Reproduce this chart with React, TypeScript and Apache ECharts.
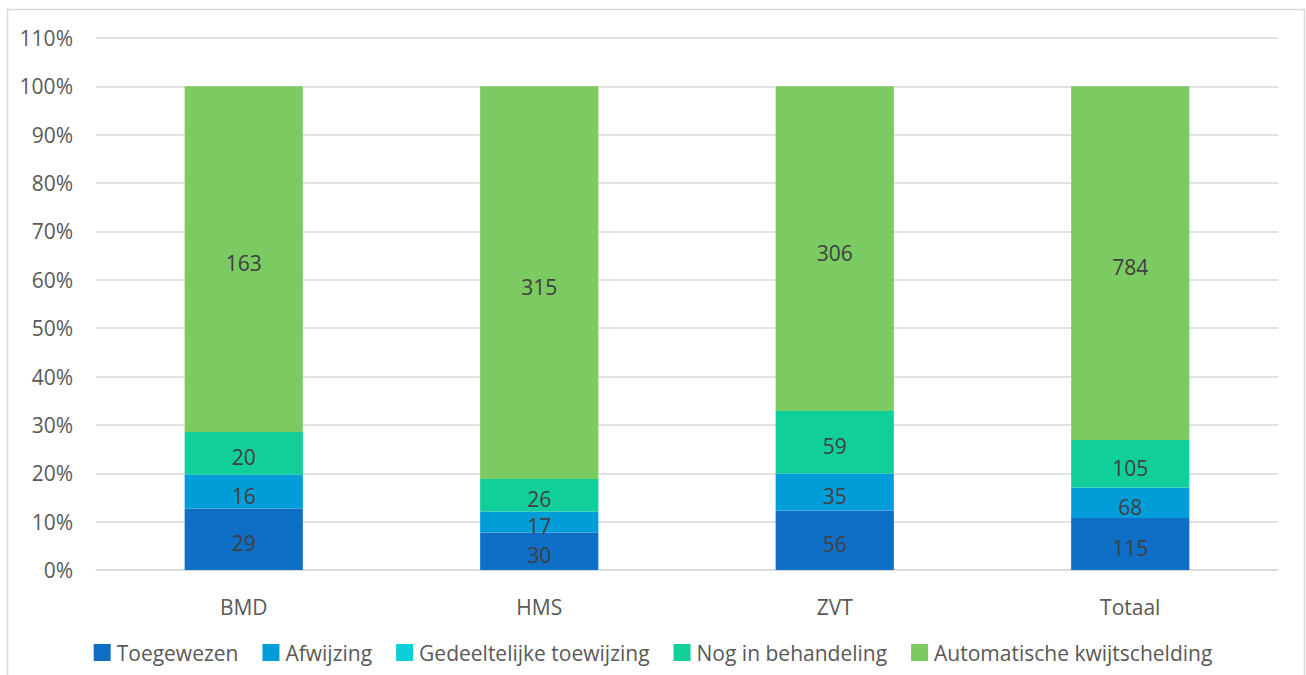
import React, { useEffect, useRef } from "react";
import * as echarts from "echarts";

const categories = ["BMD", "HMS", "ZVT", "Totaal"];
const seriesNames = [
  "Toegewezen",
  "Afwijzing",
  "Gedeeltelijke toewijzing",
  "Nog in behandeling",
  "Automatische kwijtschelding",
];
const toegewezen = [29, 30, 56, 115];
const afwijzing = [16, 17, 35, 68];
const gedeeltelijk = [0, 0, 0, 0];
const nogInBehandeling = [20, 26, 59, 105];
const automatisch = [163, 315, 306, 784];
const colors = ["#0F6FC6", "#009DD9", "#0BD0D9", "#10CF9B", "#7CCA62"];
const yTicks = [0, 10, 20, 30, 40, 50, 60, 70, 80, 90, 100, 110];

const FONT = "'Open Sans', sans-serif";
const FS = 21;

export default function App() {
  const ref = useRef<HTMLDivElement>(null);
  useEffect(() => {
    if (!ref.current) return;
    const chart = echarts.init(ref.current, undefined, { renderer: "svg" });
    const counts = [toegewezen, afwijzing, gedeeltelijk, nogInBehandeling, automatisch];
    const totals = categories.map((_, i) => counts.reduce((s, arr) => s + arr[i], 0));
    const series = counts.map((arr, si) => ({
      name: seriesNames[si],
      type: "bar",
      stack: "total",
      barWidth: "40%",
      itemStyle: { color: colors[si] },
      data: arr.map((v, i) => ({ value: (v / totals[i]) * 100, count: v })),
      label: {
        show: true,
        position: "inside",
        offset: [0, 4],
        color: "#404040",
        fontFamily: FONT,
        fontSize: FS,
        formatter: (p: any) => (p.data.count ? String(p.data.count) : ""),
      },
    }));
    chart.setOption({
      animation: false,
      backgroundColor: "#ffffff",
      graphic: [
        {
          type: "rect",
          shape: { x: 7.5, y: 9.5, width: 1297, height: 700 },
          style: { fill: "none", stroke: "#d9d9d9", lineWidth: 1.5 },
          silent: true,
        },
      ],
      grid: { left: 96, right: 28, top: 38, bottom: 105 },
      legend: {
        bottom: 7,
        left: "center",
        itemWidth: 17,
        itemHeight: 17,
        itemGap: 24,
        icon: "rect",
        textStyle: { color: "#595959", fontFamily: FONT, fontSize: FS, padding: [0, 0, 0, 1] },
        data: seriesNames,
      },
      xAxis: {
        type: "category",
        data: categories,
        axisLine: { show: true, lineStyle: { color: "#d9d9d9", width: 1.5 } },
        axisTick: { show: false },
        axisLabel: { color: "#595959", fontFamily: FONT, fontSize: FS, margin: 26 },
      },
      yAxis: {
        type: "value",
        min: 0,
        max: 110,
        interval: 10,
        axisLine: { show: false },
        axisTick: { show: false },
        splitLine: { lineStyle: { color: "#d9d9d9", width: 1.5 } },
        axisLabel: {
          color: "#595959",
          fontFamily: FONT,
          fontSize: FS,
          margin: 23,
          formatter: (v: number) => (yTicks.includes(v) ? v + "%" : ""),
        },
      },
      series,
    });
    return () => chart.dispose();
  }, []);
  return (
    <div
      ref={ref}
      style={{ position: "fixed", left: 0, top: 0, width: 1306, height: 675 }}
    />
  );
}
